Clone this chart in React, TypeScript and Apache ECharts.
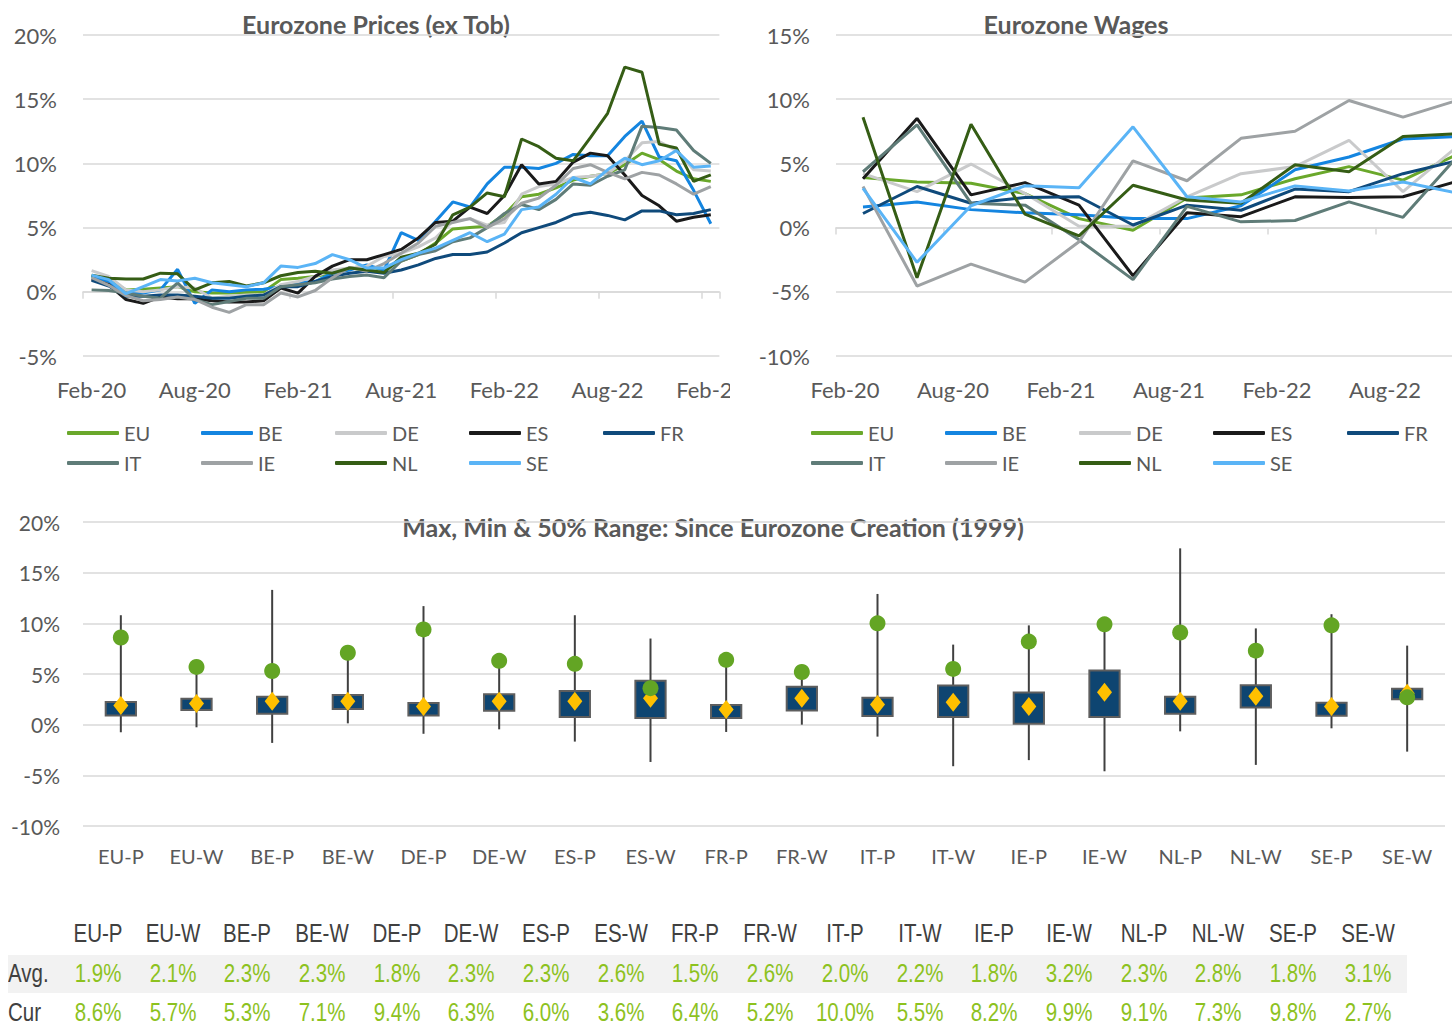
import React, { useEffect, useRef } from "react";
import * as echarts from "echarts";

// ---------- DATA ----------
const months = [
  "Feb-20", "Mar-20", "Apr-20", "May-20", "Jun-20", "Jul-20", "Aug-20", "Sep-20", "Oct-20", "Nov-20", "Dec-20",
  "Jan-21", "Feb-21", "Mar-21", "Apr-21", "May-21", "Jun-21", "Jul-21", "Aug-21", "Sep-21", "Oct-21", "Nov-21", "Dec-21",
  "Jan-22", "Feb-22", "Mar-22", "Apr-22", "May-22", "Jun-22", "Jul-22", "Aug-22", "Sep-22", "Oct-22", "Nov-22", "Dec-22",
  "Jan-23", "Feb-23",
];
const wageQuarters = ["Mar-20", "Jun-20", "Sep-20", "Dec-20", "Mar-21", "Jun-21", "Sep-21", "Dec-21", "Mar-22", "Jun-22", "Sep-22", "Dec-22"];

const countries = ["EU", "BE", "DE", "ES", "FR", "IT", "IE", "NL", "SE"];
const countryColors = ["#6aa82b", "#1485e0", "#c9cacb", "#1a1a1a", "#0f4a7b", "#5f7c78", "#9ea2a4", "#355d15", "#5ab4f6"];

// Prices (ex tobacco), % y/y, monthly Feb-20 .. Feb-23
const pricesEU = [1.2, 0.9, 0.15, 0.2, 0.3, 0.4, 0.0, -0.1, -0.1, -0.05, 0.0, 0.95, 1.05, 1.2, 1.45, 1.85, 2.0, 1.7, 2.4, 2.9, 3.8, 4.9, 5.0, 5.1, 6.0, 7.4, 7.6, 8.1, 8.7, 9.0, 9.2, 9.9, 10.8, 10.3, 9.4, 8.8, 8.6];
const pricesBE = [1.25, 0.8, -0.2, -0.1, 0.15, 1.75, -0.9, 0.15, 0.0, 0.15, 0.2, 0.4, 0.7, 0.8, 1.45, 1.7, 2.1, 1.7, 4.6, 4.0, 5.5, 7.0, 6.6, 8.4, 9.7, 9.7, 9.6, 10.0, 10.7, 10.6, 10.6, 12.1, 13.3, 10.5, 10.2, 7.9, 5.3];
const pricesDE = [1.65, 1.2, 0.15, 0.0, 0.15, 0.4, 0.3, -0.5, -0.35, -0.25, -0.25, 0.55, 0.8, 1.2, 1.7, 1.85, 2.0, 2.75, 3.0, 3.5, 4.2, 5.5, 5.7, 5.2, 5.4, 7.6, 8.2, 8.4, 8.9, 9.0, 9.2, 10.2, 11.6, 11.7, 11.0, 9.5, 9.4];
const pricesES = [1.0, 0.55, -0.6, -0.9, -0.4, -0.55, -0.55, -0.7, -0.8, -0.8, -0.7, 0.3, -0.1, 1.2, 2.0, 2.5, 2.5, 2.9, 3.3, 4.2, 5.4, 5.5, 6.6, 6.1, 7.5, 9.9, 8.4, 8.6, 10.1, 10.8, 10.6, 9.1, 7.5, 6.7, 5.5, 5.8, 6.0];
const pricesFR = [0.9, 0.45, -0.35, -0.35, -0.25, -0.25, -0.35, -0.5, -0.5, -0.35, -0.25, 0.4, 0.4, 0.8, 1.2, 1.45, 1.6, 1.45, 1.7, 2.1, 2.6, 2.9, 2.9, 3.1, 3.8, 4.6, 5.0, 5.4, 6.0, 6.2, 5.95, 5.6, 6.3, 6.3, 6.0, 6.1, 6.4];
const pricesIT = [0.15, 0.1, -0.1, -0.35, -0.5, 0.7, -0.6, -1.0, -0.75, -0.5, -0.5, 0.4, 0.55, 0.7, 1.0, 1.2, 1.3, 1.1, 2.4, 2.9, 3.2, 3.9, 4.2, 5.0, 6.1, 6.8, 6.4, 7.2, 8.4, 8.3, 9.0, 9.5, 12.9, 12.8, 12.6, 11.0, 10.0];
const pricesIE = [1.1, 0.5, -0.3, -0.7, -0.6, -0.4, -0.6, -1.2, -1.6, -1.0, -1.0, -0.1, -0.4, 0.1, 1.1, 1.9, 1.6, 2.2, 3.0, 3.8, 5.1, 5.4, 5.7, 5.0, 5.7, 6.9, 7.3, 8.3, 9.6, 9.9, 9.3, 8.8, 9.3, 9.1, 8.4, 7.6, 8.2];
const pricesNL = [1.3, 1.05, 1.0, 1.0, 1.45, 1.4, 0.15, 0.7, 0.8, 0.45, 0.7, 1.25, 1.5, 1.6, 1.45, 1.85, 1.7, 1.5, 2.7, 3.0, 3.7, 6.0, 6.6, 7.7, 7.4, 11.9, 11.3, 10.4, 10.2, 12.0, 13.9, 17.5, 17.1, 11.5, 11.2, 8.6, 9.1];
const pricesSE = [1.3, 0.95, -0.15, 0.4, 0.95, 0.85, 1.05, 0.7, 0.55, 0.4, 0.7, 2.0, 1.9, 2.2, 2.9, 2.5, 1.85, 1.85, 2.5, 3.0, 3.4, 4.0, 4.6, 3.9, 4.5, 6.4, 6.6, 7.6, 8.9, 8.4, 9.5, 10.4, 9.9, 10.2, 11.0, 9.7, 9.8];

// Wages, % y/y, quarterly Mar-20 .. Dec-22
const wagesEU = [3.9, 3.55, 3.45, 2.65, 0.7, -0.2, 2.3, 2.55, 3.8, 4.75, 3.7, 5.7];
const wagesBE = [1.6, 2.0, 1.4, 1.15, 1.0, 0.7, 0.7, 1.7, 4.5, 5.5, 6.9, 7.1];
const wagesDE = [4.2, 2.8, 4.95, 2.65, 0.1, 0.1, 2.4, 4.2, 4.75, 6.8, 2.8, 6.3];
const wagesES = [3.8, 8.5, 2.55, 3.5, 1.75, -3.75, 1.15, 0.85, 2.4, 2.35, 2.4, 3.6];
const wagesFR = [1.1, 3.2, 1.9, 2.35, 2.4, 0.2, 1.75, 1.35, 3.0, 2.8, 4.2, 5.2];
const wagesIT = [4.35, 8.0, 1.9, 1.75, -0.95, -4.05, 1.65, 0.45, 0.55, 2.0, 0.8, 5.5];
const wagesIE = [3.2, -4.55, -2.85, -4.25, -1.1, 5.2, 3.65, 6.95, 7.5, 9.9, 8.6, 9.9];
const wagesNL = [8.6, -3.9, 8.05, 1.05, -0.65, 3.3, 2.15, 1.9, 4.9, 4.35, 7.1, 7.3];
const wagesSE = [3.05, -2.7, 1.7, 3.25, 3.1, 7.85, 2.4, 2.0, 3.25, 2.85, 3.55, 2.7];

// Range chart (since 1999)
const rangeCategories = ["EU-P", "EU-W", "BE-P", "BE-W", "DE-P", "DE-W", "ES-P", "ES-W", "FR-P", "FR-W", "IT-P", "IT-W", "IE-P", "IE-W", "NL-P", "NL-W", "SE-P", "SE-W"];
const rangeMax = [10.8, 5.8, 13.3, 7.3, 11.7, 6.5, 10.8, 8.5, 6.5, 5.3, 12.9, 7.9, 9.8, 10.0, 17.4, 9.5, 10.9, 7.8];
const rangeMin = [-0.75, -0.26, -1.8, 0.13, -0.9, -0.46, -1.67, -3.68, -0.72, 0.0, -1.18, -4.1, -3.5, -4.6, -0.66, -3.97, -0.36, -2.66];
const rangeQ3 = [2.23, 2.56, 2.76, 2.92, 2.13, 3.0, 3.32, 4.33, 1.94, 3.74, 2.66, 3.87, 3.18, 5.35, 2.76, 3.9, 2.17, 3.55];
const rangeQ1 = [0.9, 1.44, 1.08, 1.54, 0.9, 1.38, 0.75, 0.66, 0.66, 1.41, 0.85, 0.75, 0.1, 0.75, 1.08, 1.7, 0.89, 2.5];
const rangeAvg = [1.9, 2.1, 2.3, 2.3, 1.8, 2.3, 2.3, 2.6, 1.5, 2.6, 2.0, 2.2, 1.8, 3.2, 2.3, 2.8, 1.8, 3.1];
const rangeCur = [8.6, 5.7, 5.3, 7.1, 9.4, 6.3, 6.0, 3.6, 6.4, 5.2, 10.0, 5.5, 8.2, 9.9, 9.1, 7.3, 9.8, 2.7];

const pricesData = [pricesEU, pricesBE, pricesDE, pricesES, pricesFR, pricesIT, pricesIE, pricesNL, pricesSE];
const wagesData = [wagesEU, wagesBE, wagesDE, wagesES, wagesFR, wagesIT, wagesIE, wagesNL, wagesSE];

// ---------- STYLE ----------
const FONT = "Lato, 'Noto Sans', sans-serif";
const LABEL = "#595959";
const GRID = "#d9d9d9";

function legendsFor(left0: number) {
  return countries.map((c, k) => ({
    data: [c],
    left: left0 + 134 * (k % 5),
    top: k < 5 ? 423 : 453,
    icon: "roundRect",
    itemWidth: 52,
    itemHeight: 4,
    padding: 0,
    selectedMode: false,
    textStyle: { fontSize: 20, color: LABEL, fontFamily: FONT },
  }));
}

function lineOption(opts: {
  title: string;
  titleX: number;
  gridLeft: number;
  gridWidth: number;
  yMin: number;
  yMax: number;
  legendLeft: number;
  series: any[];
}) {
  return {
    animation: false,
    textStyle: { fontFamily: FONT },
    graphic: [
      {
        type: "text",
        x: opts.titleX,
        y: 24,
        style: { text: opts.title, align: "center", verticalAlign: "middle", fill: LABEL, fontSize: 25, fontWeight: "bold", fontFamily: FONT },
      },
    ],
    legend: legendsFor(opts.legendLeft),
    grid: { left: opts.gridLeft, top: 35, width: opts.gridWidth, height: 321, containLabel: false, outerBoundsMode: "none" },
    xAxis: {
      type: "category",
      data: months,
      boundaryGap: true,
      axisLine: { onZero: true, lineStyle: { color: GRID, width: 1.5 } },
      axisTick: { show: true, interval: 5, length: 7, lineStyle: { color: GRID, width: 1.5 } },
      axisLabel: { interval: 5, margin: 22, fontSize: 22, color: LABEL, fontFamily: FONT },
      splitLine: { show: false },
    },
    yAxis: {
      type: "value",
      min: opts.yMin,
      max: opts.yMax,
      interval: 5,
      axisLine: { show: false },
      axisTick: { show: false },
      axisLabel: { formatter: "{value}%", fontSize: 22, color: LABEL, margin: 26, fontFamily: FONT },
      splitLine: { lineStyle: { color: GRID, width: 1.5 } },
    },
    series: opts.series,
  };
}

function useChart(ref: React.RefObject<HTMLDivElement | null>, build: () => any) {
  useEffect(() => {
    if (!ref.current) return;
    const chart = echarts.init(ref.current, undefined, { renderer: "svg" });
    chart.setOption(build());
    return () => chart.dispose();
  }, []);
}

export default function App() {
  const pricesRef = useRef<HTMLDivElement>(null);
  const wagesRef = useRef<HTMLDivElement>(null);
  const rangeRef = useRef<HTMLDivElement>(null);

  useEffect(() => {
    document.body.style.margin = "0";
  }, []);

  useChart(pricesRef, () =>
    lineOption({
      title: "Eurozone Prices (ex Tob)",
      titleX: 376,
      gridLeft: 83,
      gridWidth: 37 * 17.2,
      yMin: -5,
      yMax: 20,
      legendLeft: 67,
      series: countries.map((c, k) => ({
        name: c,
        type: "line",
        data: pricesData[k],
        color: countryColors[k],
        lineStyle: { width: 3, color: countryColors[k] },
        showSymbol: false,
        symbol: "none",
      })),
    })
  );

  useChart(wagesRef, () =>
    lineOption({
      title: "Eurozone Wages",
      titleX: 1076 - 730,
      gridLeft: 106,
      gridWidth: 37 * 18,
      yMin: -10,
      yMax: 15,
      legendLeft: 81,
      series: countries.map((c, k) => ({
        name: c,
        type: "line",
        data: wageQuarters.map((q, j) => [q, wagesData[k][j]]),
        color: countryColors[k],
        lineStyle: { width: 3, color: countryColors[k] },
        showSymbol: false,
        symbol: "none",
      })),
    })
  );

  useChart(rangeRef, () => ({
    animation: false,
    textStyle: { fontFamily: FONT },
    graphic: [
      {
        type: "text",
        x: 713,
        y: 37,
        style: {
          text: "Max, Min & 50% Range: Since Eurozone Creation (1999)",
          align: "center",
          verticalAlign: "middle",
          fill: LABEL,
          fontSize: 25,
          fontWeight: "bold",
          fontFamily: FONT,
        },
      },
    ],
    grid: { left: 83, top: 32, width: 1362, height: 304, outerBoundsMode: "none" },
    xAxis: {
      type: "category",
      data: rangeCategories,
      boundaryGap: true,
      axisLine: { show: false, onZero: false },
      axisTick: { show: false },
      axisLabel: { fontSize: 20, color: LABEL, margin: 20, fontFamily: FONT },
    },
    yAxis: {
      type: "value",
      min: -10,
      max: 20,
      interval: 5,
      axisLine: { show: false },
      axisTick: { show: false },
      axisLabel: { formatter: "{value}%", fontSize: 21, color: LABEL, margin: 23, fontFamily: FONT },
      splitLine: { lineStyle: { color: GRID, width: 1.5 } },
    },
    series: [
      {
        type: "custom",
        name: "Range",
        encode: { x: 0, y: [1, 2, 3, 4] },
        data: rangeCategories.map((c, i) => [i, rangeMin[i], rangeQ1[i], rangeQ3[i], rangeMax[i]]),
        renderItem: (params: any, api: any) => {
          const x = api.value(0);
          const lo = api.coord([x, api.value(1)]);
          const q1 = api.coord([x, api.value(2)]);
          const q3 = api.coord([x, api.value(3)]);
          const hi = api.coord([x, api.value(4)]);
          const w = api.size([1, 0])[0] * 0.4;
          return {
            type: "group",
            children: [
              {
                type: "line",
                shape: { x1: lo[0], y1: lo[1], x2: hi[0], y2: hi[1] },
                style: { stroke: "#404040", lineWidth: 2 },
              },
              {
                type: "rect",
                shape: { x: q3[0] - w / 2, y: q3[1], width: w, height: q1[1] - q3[1] },
                style: { fill: "#0e4571", stroke: "#5e5e5e", lineWidth: 2 },
              },
            ],
          };
        },
        z: 2,
      },
      {
        type: "scatter",
        name: "Avg",
        data: rangeAvg,
        symbol: "diamond",
        symbolSize: [15, 19],
        itemStyle: { color: "#ffc000", opacity: 1 },
        z: 3,
      },
      {
        type: "scatter",
        name: "Cur",
        data: rangeCur,
        symbol: "circle",
        symbolSize: 16,
        itemStyle: { color: "#63a524", opacity: 1 },
        z: 4,
      },
    ],
  }));

  const colX = (k: number) => 97.8 + 74.7 * k;
  const cellFont = "'Liberation Sans', Arial, sans-serif";
  const cell = (text: string, x: number, yc: number, color: string, size: number, key: string) => (
    <span
      key={key}
      style={{
        position: "absolute",
        left: x,
        top: yc - 16,
        height: 32,
        lineHeight: "32px",
        fontSize: size,
        fontFamily: cellFont,
        color,
        whiteSpace: "nowrap",
        display: "inline-block",
        transform: "translateX(-50%) scaleX(0.82)",
      }}
    >
      {text}
    </span>
  );
  const rowLabel = (text: string, yc: number) => (
    <span
      style={{
        position: "absolute",
        left: 8,
        top: yc - 16,
        height: 32,
        lineHeight: "32px",
        fontSize: 25,
        fontFamily: cellFont,
        color: "#404040",
        whiteSpace: "nowrap",
        display: "inline-block",
        transform: "scaleX(0.82)",
        transformOrigin: "left center",
      }}
    >
      {text}
    </span>
  );
  const VALUE_GREEN = "#8dc21f";

  return (
    <div style={{ position: "absolute", left: 0, top: 0, width: 1452, height: 1029, overflow: "hidden", background: "#fff" }}>
      <div ref={pricesRef} style={{ position: "absolute", left: 0, top: 0, width: 730, height: 490 }} />
      <div ref={wagesRef} style={{ position: "absolute", left: 730, top: 0, width: 722, height: 490, overflow: "hidden" }} />
      <div ref={rangeRef} style={{ position: "absolute", left: 0, top: 490, width: 1452, height: 400 }} />
      <div style={{ position: "absolute", left: 8, top: 955, width: 1399, height: 38, background: "#f2f2f2" }} />
      {rangeCategories.map((c, k) => cell(c, colX(k), 933, "#404040", 25, "h" + k))}
      {rowLabel("Avg.", 973)}
      {rangeAvg.map((v, k) => cell(v.toFixed(1) + "%", colX(k), 973, VALUE_GREEN, 25, "a" + k))}
      {rowLabel("Cur", 1012)}
      {rangeCur.map((v, k) => cell(v.toFixed(1) + "%", colX(k), 1012, VALUE_GREEN, 25, "c" + k))}
    </div>
  );
}
